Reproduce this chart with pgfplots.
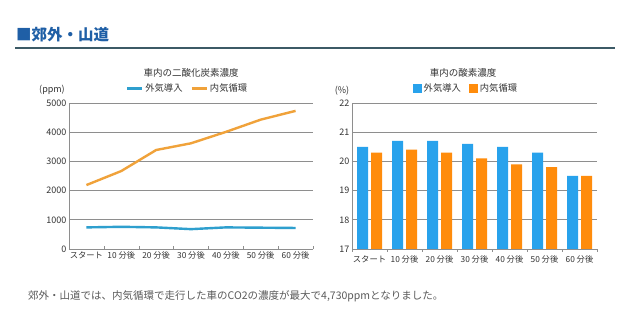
\documentclass[border=0pt]{standalone}
\usepackage{fontspec}
\setmainfont{Noto Sans CJK JP}
\usepackage{pgfplots}
\pgfplotsset{compat=1.18}
\definecolor{hdr}{HTML}{1F5FA6}
\definecolor{hdrline}{HTML}{3C5A66}
\definecolor{lblue}{HTML}{2E9FCE}
\definecolor{lorange}{HTML}{F0A23A}
\definecolor{bblue}{HTML}{28A2EC}
\definecolor{borange}{HTML}{FF8C0C}
\definecolor{gridc}{HTML}{8E8E8E}
\definecolor{txt}{HTML}{333333}
\definecolor{bodytxt}{HTML}{5A5A5A}
\begin{document}
\begin{tikzpicture}[x=1pt,y=1pt]
\path[fill=white] (0,0) rectangle (640,329);
% header
\node[anchor=base west, inner sep=0, font=\fontsize{15.5}{15.5}\selectfont\bfseries, text=hdr] at (16,329-41) {■郊外・山道};
\draw[hdrline, line width=1.1pt] (15,329-48) -- (615,329-48);
% body text
\node[anchor=base west, inner sep=0, font=\fontsize{10.5}{10.5}\selectfont, text=bodytxt] at (28,329-300) {郊外・山道では、内気循環で走行した車のCO2の濃度が最大で4,730ppmとなりました。};
% titles and units
\node[font=\fontsize{9.5}{9.5}\selectfont, text=txt] at (191,329-73) {車内の二酸化炭素濃度};
\node[font=\fontsize{9.5}{9.5}\selectfont, text=txt] at (463,329-73) {車内の酸素濃度};
\node[font=\fontsize{9}{9}\selectfont, text=txt] at (52,329-90) {(ppm)};
\node[font=\fontsize{9}{9}\selectfont, text=txt] at (342,329-91) {(\%)};

\pgfplotsset{
  common/.style={
    scale only axis,
    anchor=south west,
    height=146pt,
    xmin=-0.5, xmax=6.5,
    xtick={0,...,6},
    xticklabels={スタート,10 分後,20 分後,30 分後,40 分後,50 分後,60 分後},
    minor xtick={-0.5,0.5,...,6.5},
    major x tick style={draw=none},
    minor tick length=3pt,
    minor x tick style={gridc},
    major y tick style={draw=none},
    axis x line*=bottom,
    axis y line*=left,
    axis line style={gridc, line width=0.8pt, -},
    ymajorgrids,
    major grid style={gridc, line width=0.8pt},
    tick label style={font=\fontsize{9}{9}\selectfont, text=txt},
    xticklabel style={font=\fontsize{8.3}{8.3}\selectfont, yshift=1pt},
    yticklabel style={xshift=1pt},
    /pgf/number format/assume math mode=true,
    /pgf/number format/1000 sep={},
    legend columns=2,
    legend style={draw=none, fill=none, font=\fontsize{9.3}{9.3}\selectfont, text=txt,
      anchor=center, /tikz/every even column/.append style={column sep=6pt},
      inner sep=0pt, row sep=0pt},
  }
}

\begin{axis}[common,
  at={(69pt,80pt)}, width=244pt,
  ymin=0, ymax=5000, ytick={0,1000,...,5000},
  legend style={at={(axis description cs:0.486,1.1)}},
  legend image code/.code={\draw[#1,line width=2.4pt] (0pt,0pt) -- (15pt,0pt);},
]
\addplot[lblue, line width=2.4pt] coordinates {(0,740) (1,760) (2,740) (3,680) (4,740) (5,730) (6,720)};
\addlegendentry{外気導入}
\addplot[lorange, line width=2.4pt] coordinates {(0,2190) (1,2670) (2,3390) (3,3620) (4,4010) (5,4430) (6,4730)};
\addlegendentry{内気循環}
\end{axis}

\begin{axis}[common,
  at={(352pt,80pt)}, width=245pt,
  ymin=17, ymax=22, ytick={17,...,22},
  ybar=3pt, bar width=11pt,
  legend style={at={(axis description cs:0.465,1.1)}},
  legend image code/.code={\fill[#1,draw=none] (0pt,-4.5pt) rectangle (9pt,4.5pt);},
]
\addplot[fill=bblue, draw=none] coordinates {(0,20.5) (1,20.7) (2,20.7) (3,20.6) (4,20.5) (5,20.3) (6,19.5)};
\addlegendentry{外気導入}
\addplot[fill=borange, draw=none] coordinates {(0,20.3) (1,20.4) (2,20.3) (3,20.1) (4,19.9) (5,19.8) (6,19.5)};
\addlegendentry{内気循環}
\end{axis}
\end{tikzpicture}
\end{document}
